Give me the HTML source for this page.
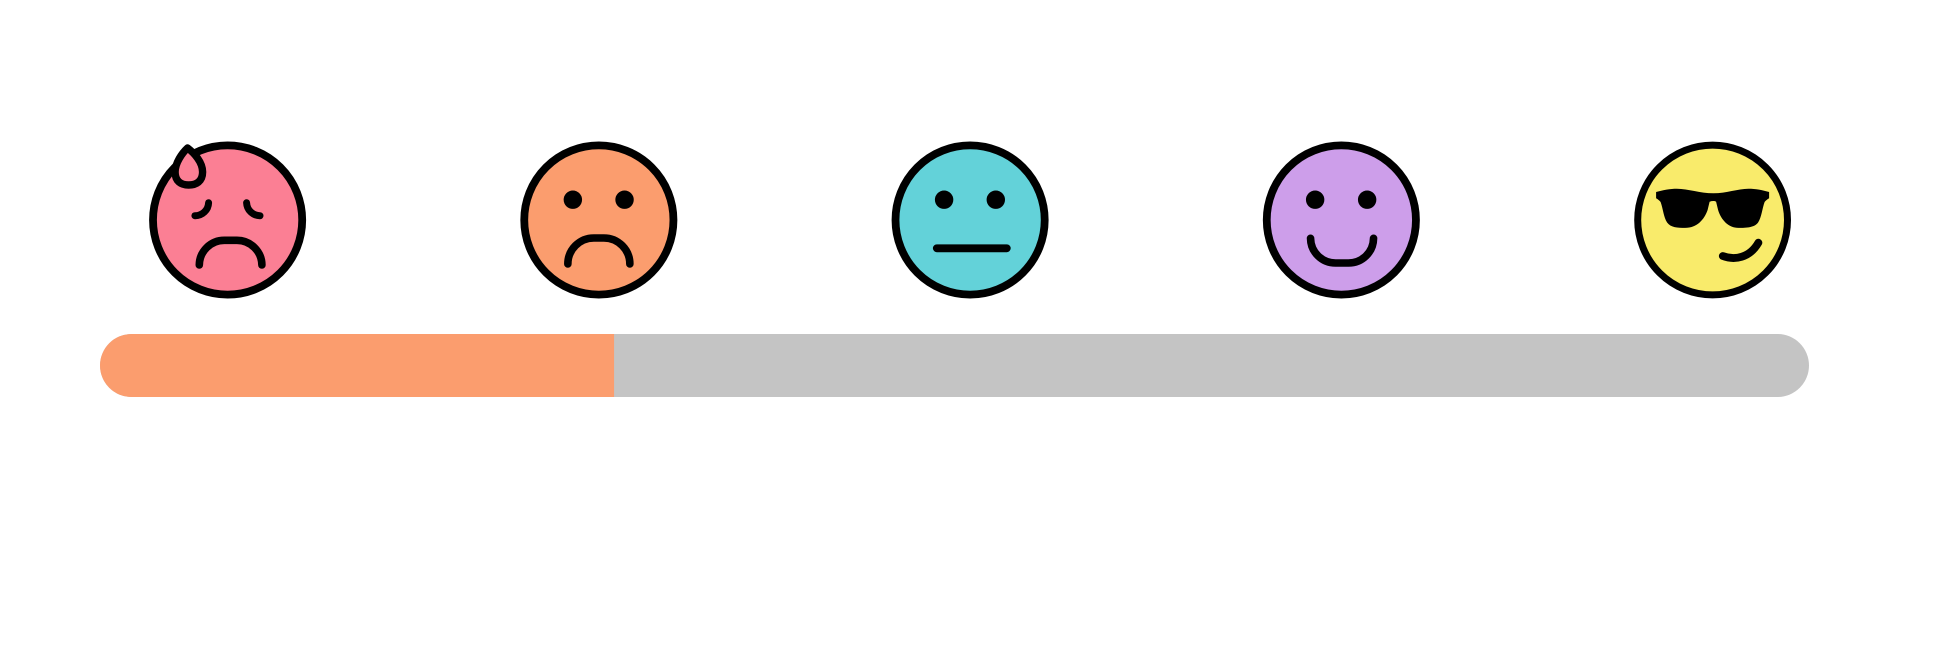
<!DOCTYPE html>
<html lang="en">
<head>
<meta charset="utf-8">
<title>Mood rating scale</title>
<style>
  html, body { margin: 0; padding: 0; background: #ffffff; width: 1938px; height: 660px; overflow: hidden; }
  svg { display: block; }
  .ink { fill: none; stroke: #000; stroke-linecap: round; stroke-linejoin: round; }
</style>
</head>
<body>
<svg id="rating-chart" xmlns="http://www.w3.org/2000/svg" width="1938" height="660" viewBox="0 0 1938 660">
  <defs>
    <clipPath id="track-clip"><rect x="100" y="334" width="1709" height="63" rx="31.5" ry="31.5"></rect></clipPath>
  </defs>

  <g id="faces">
    <g class="face">
      <circle r="74.6" fill="#FB7F94" stroke="#000" stroke-width="7.8"></circle>
      <path class="ink" stroke-width="7" d="M-19,-17.3 A13.5,13.5 0 0 1 -32.7,-4.3"></path>
      <path class="ink" stroke-width="7" d="M19,-17.3 A13.5,13.5 0 0 0 32.4,-4.3"></path>
      <path class="ink" stroke-width="7.6" d="M-28.3,45 A25,25 0 0 1 -3.3,20.3 H9.3 A25,25 0 0 1 34.3,45"></path>
      <path class="ink" stroke-width="7.4" style="fill:#FB7F94" d="M-40,-72 C-45.5,-67 -52.5,-57 -52.5,-48 C-52.5,-38.5 -46.5,-35 -39,-35 C-31.5,-35 -25,-38.5 -25,-48 C-25,-58 -33.5,-67 -40,-72 Z"></path>
    </g>

    <g class="face">
      <circle r="74.6" fill="#FB9D6E" stroke="#000" stroke-width="7.8"></circle>
      <circle cx="-26" cy="-20.3" r="9.2" fill="#000"></circle>
      <circle cx="25.7" cy="-20.3" r="9.2" fill="#000"></circle>
      <path class="ink" stroke-width="7.6" d="M-31,44 A26,26 0 0 1 -5,18 H5 A26,26 0 0 1 31,44"></path>
    </g>

    <g class="face">
      <circle r="74.6" fill="#63D2D9" stroke="#000" stroke-width="7.8"></circle>
      <circle cx="-26" cy="-20.3" r="9.2" fill="#000"></circle>
      <circle cx="25.7" cy="-20.3" r="9.2" fill="#000"></circle>
      <path class="ink" stroke-width="7.8" d="M-33.3,28.3 H36.7"></path>
    </g>

    <g class="face">
      <circle r="74.6" fill="#CD9EEA" stroke="#000" stroke-width="7.8"></circle>
      <circle cx="-26.2" cy="-20.3" r="9.2" fill="#000"></circle>
      <circle cx="25.8" cy="-20.3" r="9.2" fill="#000"></circle>
      <path class="ink" stroke-width="7.6" d="M-30.8,18.3 A25,25 0 0 0 -5.8,43 H7.2 A25,25 0 0 0 32.2,18.3"></path>
    </g>

    <g class="face">
      <circle r="74.9" fill="#F9EB6B" stroke="#000" stroke-width="7"></circle>
      <path fill="#000" d="M-56.5,-28 C-50,-30 -42,-31.3 -35.8,-31.3 C-24,-31.3 -13,-26.7 0.8,-26.7 C14,-26.7 25,-31.3 35.8,-31.3 C43,-31.3 50,-30 56.5,-28 L56.5,-21.8 C54.5,-20.5 53,-19.5 52,-18 C49.5,-11 49,-3 45.5,2.5 C42,7.5 34,7.9 25.8,7.9 C16,7.9 8.5,0 5.5,-10 L3.5,-18.3 C2,-19.2 -0.5,-19.2 -3,-18.3 L-5,-10 C-8.5,0 -16,7.9 -27.5,7.9 C-35,7.9 -42,7.5 -45.5,2.5 C-49,-3 -49.5,-11 -52,-18 C-53,-19.5 -54.5,-20.5 -56.5,-21.8 Z"></path>
      <path class="ink" stroke-width="7.8" d="M10.2,36 C22,40.5 37,38 45.8,22.7"></path>
    </g>
  </g>

  <g id="progress">
    <rect id="track" x="100" y="334" width="1709" height="63" rx="31.5" ry="31.5" fill="#C4C4C4"></rect>
    <g clip-path="url(#track-clip)">
      <rect id="fill" x="100" y="334" height="63" width="514" fill="#FB9D6E"></rect>
    </g>
  </g>
</svg>

<script>
  // Rating scale data
  const moodLevels = ['very-sad', 'sad', 'neutral', 'happy', 'cool'];
  const progressValue = 30.08;
  const progressMax = 100;

  // Axis functions
  function faceX(index) {
    return 227.6 + index * (1712.6 - 227.6) / (moodLevels.length - 1);
  }
  function progressWidth(value) {
    return 1709 * value / progressMax;
  }

  const faceGroups = document.querySelectorAll('#faces .face');
  moodLevels.forEach(function (level, i) {
    faceGroups[i].setAttribute('transform', 'translate(' + faceX(i) + ',220)');
  });
  document.getElementById('fill').setAttribute('width', progressWidth(progressValue));
</script>
</body>
</html>
